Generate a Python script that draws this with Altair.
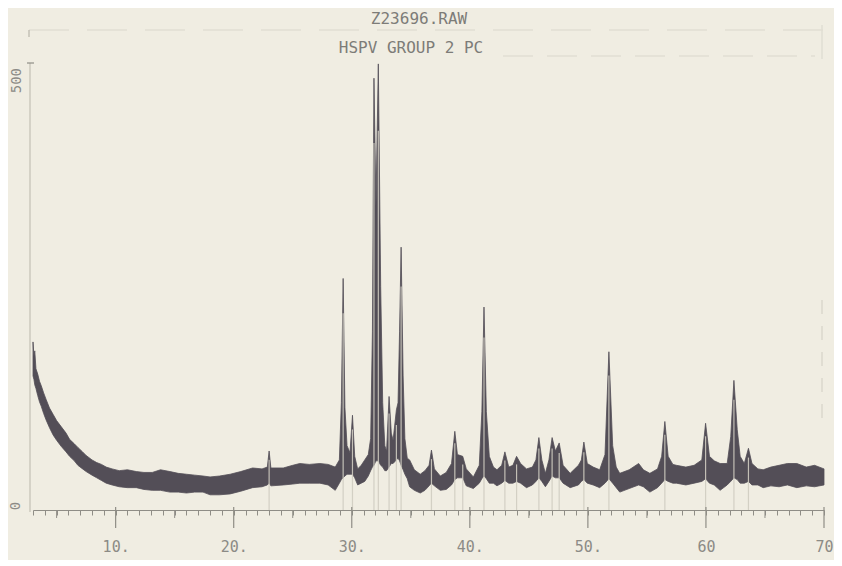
import altair as alt
import pandas as pd

# ---- data (2-theta in degrees, counts) ----
two_theta = [3.00, 3.08, 3.15, 3.25, 3.40, 3.55, 3.70, 3.90, 4.10, 4.40, 4.70, 5.00, 5.40, 5.80,
             6.10, 6.50, 6.80, 7.20, 7.50, 8.00, 8.40, 8.80, 9.20, 9.70, 10.30, 11.00, 11.75,
             12.40, 13.10, 13.80, 14.60, 15.30, 16.00, 16.70, 17.40, 18.00, 18.80, 19.70, 20.60,
             21.60, 22.40, 22.85, 23.00, 23.15, 24.20, 25.00, 25.60, 26.40, 27.30, 28.00, 28.60,
             28.95, 29.12, 29.27, 29.42, 29.60, 29.85, 30.06, 30.25, 30.50, 30.80, 31.10, 31.40,
             31.60, 31.75, 31.88, 32.05, 32.25, 32.45, 32.62, 32.80, 32.95, 33.16, 33.35, 33.50,
             33.78, 33.92, 34.05, 34.18, 34.35, 34.50, 34.70, 34.90, 35.30, 35.80, 36.20, 36.55,
             36.75, 37.00, 37.50, 38.00, 38.45, 38.73, 38.95, 39.40, 39.70, 40.30, 40.80, 41.02,
             41.20, 41.40, 41.65, 42.00, 42.30, 42.70, 42.97, 43.30, 43.65, 43.96, 44.30, 44.80,
             45.30, 45.60, 45.85, 46.10, 46.40, 46.70, 46.97, 47.25, 47.57, 47.90, 48.50, 49.20,
             49.45, 49.66, 49.95, 50.45, 51.00, 51.45, 51.78, 52.10, 52.40, 52.70, 53.50, 54.30,
             54.70, 55.25, 55.90, 56.25, 56.52, 56.80, 57.20, 57.50, 58.30, 59.00, 59.65, 59.97,
             60.30, 60.70, 61.20, 61.80, 62.10, 62.37, 62.65, 62.90, 63.25, 63.60, 63.90, 64.40,
             64.85, 65.50, 66.20, 66.90, 67.70, 68.50, 69.20, 70.00]
upper = [188, 172, 178, 158, 152, 144, 139, 131, 124, 114, 107, 100, 93, 86,
         79, 74, 70, 65, 61, 56, 53, 51, 48, 46, 44, 45, 43,
         42, 42, 45, 43, 41, 40, 39, 38, 37, 38, 40, 43,
         47, 46, 48, 66, 47, 47, 50, 52, 51, 52, 51, 48,
         56, 120, 259, 115, 72, 64, 106, 60, 46, 50, 56, 62,
         80, 200, 483, 340, 499, 250, 120, 72, 66, 127, 86, 78,
         112, 120, 200, 294, 150, 80, 58, 56, 45, 40, 44, 50,
         67, 46, 38, 42, 52, 88, 62, 60, 46, 37, 50, 110,
         227, 110, 60, 48, 45, 50, 65, 48, 50, 60, 52, 46,
         48, 56, 81, 56, 41, 56, 81, 66, 75, 50, 41, 50,
         56, 76, 52, 48, 45, 62, 177, 72, 48, 41, 45, 52,
         45, 41, 46, 60, 99, 60, 51, 50, 48, 50, 56, 97,
         60, 55, 52, 52, 82, 145, 90, 60, 52, 69, 52, 46,
         45, 48, 50, 52, 52, 48, 50, 46]
lower = [150, 146, 140, 136, 128, 121, 116, 108, 101, 92, 84, 78, 71, 65,
         60, 55, 50, 46, 43, 39, 36, 33, 30, 28, 26, 25, 25,
         23, 22, 22, 20, 20, 19, 20, 20, 17, 17, 18, 21,
         25, 26, 28, 30, 27, 28, 29, 30, 30, 30, 28, 22,
         30, 34, 36, 38, 40, 40, 40, 36, 28, 30, 32, 38,
         44, 48, 50, 55, 55, 50, 48, 44, 44, 48, 52, 52,
         56, 58, 55, 50, 45, 40, 35, 26, 22, 19, 22, 27,
         30, 27, 22, 23, 28, 34, 36, 36, 27, 24, 30, 35,
         38, 35, 30, 30, 27, 30, 33, 30, 30, 32, 30, 25,
         28, 32, 36, 32, 26, 32, 38, 36, 36, 30, 25, 28,
         32, 34, 30, 28, 25, 30, 35, 30, 25, 20, 24, 28,
         26, 20, 25, 30, 34, 32, 30, 30, 28, 30, 32, 35,
         30, 28, 22, 28, 32, 36, 34, 30, 30, 32, 28, 28,
         25, 27, 26, 28, 25, 27, 26, 28]

# peak-search markers (position, peak height)
peak_pos = [23.00, 29.27, 30.06, 31.88, 32.25, 33.16, 33.78, 34.18, 36.75, 38.73, 39.40,
            41.20, 42.97, 43.96, 45.85, 46.97, 47.57, 49.66, 51.78, 56.52, 59.97, 62.37, 63.60]
peak_h = [66, 259, 106, 483, 499, 127, 112, 294, 67, 88, 60,
          227, 65, 60, 81, 81, 75, 76, 177, 99, 97, 145, 69]

minor_ticks = list(range(3, 71))
mid_ticks = [5, 15, 25, 35, 45, 55, 65]
major_ticks = [10, 20, 30, 40, 50, 60, 70]

W, H = 791, 447
BG = "#f0ede2"
TRACE = "#4b4650"
AXIS = "#8f8d86"
TEXT = "#8c8b86"
FAINT = "#e1ded3"
MONO = "DejaVu Sans Mono"

xscale = alt.Scale(domain=[3, 70], nice=False, zero=False)
yscale = alt.Scale(domain=[0, 500], nice=False, zero=True)

xaxis = alt.Axis(
    values=minor_ticks, tickSize=5, tickColor=AXIS, tickWidth=1,
    domainColor=AXIS, domainWidth=1.2, grid=False, title=None,
    labelExpr="datum.value % 10 == 0 ? (datum.value >= 60 ? '' + datum.value : datum.value + '.') : ''",
    labelFont=MONO, labelFontSize=15, labelColor=TEXT, labelPadding=24,
    labelOverlap=False, labelFlush=False, labelOffset=0,
)

X = alt.X("x:Q", scale=xscale, axis=xaxis)

scan = pd.DataFrame({"x": two_theta, "u": upper, "l": lower})
band = alt.Chart(scan).mark_area(color=TRACE, opacity=0.95, stroke=TRACE, strokeWidth=0.8).encode(
    x=X,
    y=alt.Y("u:Q", scale=yscale, axis=None),
    y2="l:Q",
)

pk = pd.DataFrame({"x": peak_pos, "h": [v * 0.85 for v in peak_h], "z": [0] * len(peak_pos)})
markers = alt.Chart(pk).mark_rule(color="#cfccc1", strokeWidth=1.2, opacity=0.9).encode(
    x=X,
    y=alt.Y("z:Q", scale=yscale, axis=None),
    y2="h:Q",
)

mid = alt.Chart(pd.DataFrame({"x": mid_ticks})).mark_rule(color=AXIS, strokeWidth=1).encode(
    x=X, y=alt.value(H), y2=alt.value(H + 8)
)
major = alt.Chart(pd.DataFrame({"x": major_ticks})).mark_rule(color=AXIS, strokeWidth=1.2).encode(
    x=X, y=alt.value(H - 3), y2=alt.value(H + 18)
)

# y axis line, 500 tick, labels
yline = alt.Chart(pd.DataFrame({"a": [0]})).mark_rule(color="#c3c0b5", strokeWidth=1.2).encode(
    x=alt.value(-3), y=alt.value(0), y2=alt.value(H + 2)
)
ytick = alt.Chart(pd.DataFrame({"a": [0]})).mark_rule(color=AXIS, strokeWidth=1.2).encode(
    x=alt.value(-6), x2=alt.value(1), y=alt.value(0)
)
ylab500 = alt.Chart(pd.DataFrame({"t": ["500"]})).mark_text(
    font=MONO, fontSize=14, color=TEXT, angle=270, align="right", baseline="middle"
).encode(text="t:N", x=alt.value(-16), y=alt.value(5))
ylab0 = alt.Chart(pd.DataFrame({"t": ["0"]})).mark_text(
    font=MONO, fontSize=14, color=TEXT, angle=270, align="center", baseline="middle"
).encode(text="t:N", x=alt.value(-17), y=alt.value(H - 4))

# titles
t1 = alt.Chart(pd.DataFrame({"t": ["Z23696.RAW"]})).mark_text(
    font=MONO, fontSize=16, color="#7d7c78", align="center", baseline="middle"
).encode(text="t:N", x=alt.value(386), y=alt.value(-44))
t2 = alt.Chart(pd.DataFrame({"t": ["HSPV GROUP 2 PC"]})).mark_text(
    font=MONO, fontSize=16, color="#7d7c78", align="center", baseline="middle"
).encode(text="t:N", x=alt.value(378), y=alt.value(-15))

# faint frame remnants of the plotter sheet
frame_top = alt.Chart(pd.DataFrame({"a": [0]})).mark_rule(color=FAINT, strokeWidth=1.5, strokeDash=[40, 18]).encode(
    x=alt.value(-4), x2=alt.value(790), y=alt.value(-33)
)
frame_mid = alt.Chart(pd.DataFrame({"a": [0]})).mark_rule(color=FAINT, strokeWidth=1.5, strokeDash=[30, 14]).encode(
    x=alt.value(470), x2=alt.value(782), y=alt.value(-7)
)
frame_right = alt.Chart(pd.DataFrame({"a": [0]})).mark_rule(color=FAINT, strokeWidth=1.5).encode(
    x=alt.value(789), y=alt.value(-38), y2=alt.value(-4)
)
frame_right2 = alt.Chart(pd.DataFrame({"a": [0]})).mark_rule(color="#e0ddd2", strokeWidth=2, strokeDash=[14, 12]).encode(
    x=alt.value(789), y=alt.value(237), y2=alt.value(357)
)
corner = alt.Chart(pd.DataFrame({"a": [0]})).mark_rule(color="#b9b6ac", strokeWidth=1.2).encode(
    x=alt.value(-4), y=alt.value(-33), y2=alt.value(-26)
)

chart = alt.layer(
    frame_top, frame_mid, frame_right, frame_right2, corner,
    yline, ytick, ylab500, ylab0, t1, t2,
    band, markers, mid, major,
).properties(
    width=W, height=H,
    background=BG,
    padding={"left": 25, "top": 55, "right": 10, "bottom": 50},
    autosize=alt.AutoSizeParams(type="none"),
).configure_view(stroke=None, fill=None)

chart.save("out.html", embed_options={"renderer": "svg", "actions": False})
